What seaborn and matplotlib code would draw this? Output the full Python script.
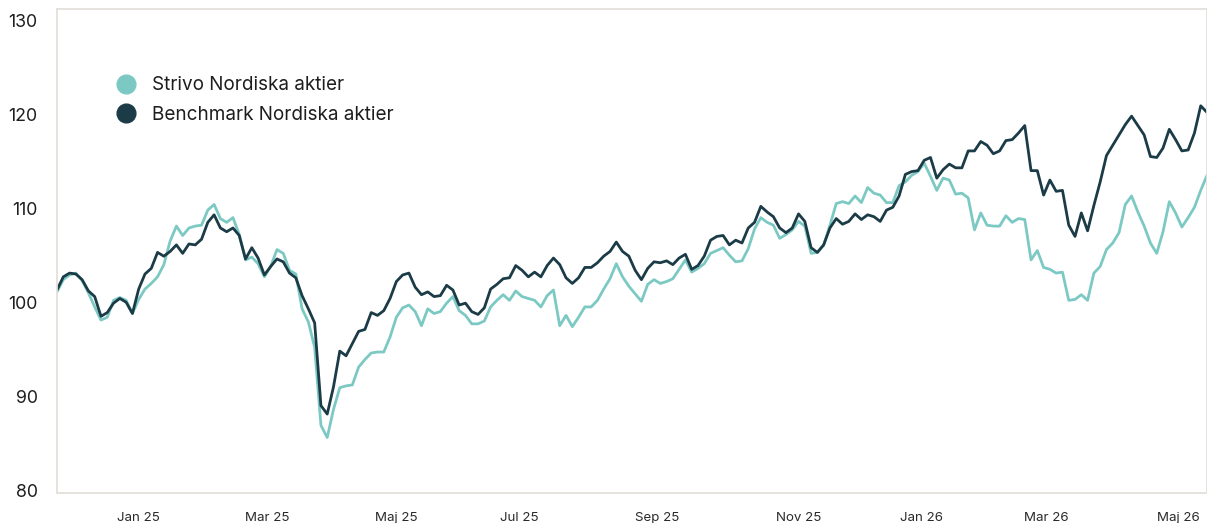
import matplotlib
matplotlib.use("Agg")
import matplotlib.pyplot as plt
from matplotlib.lines import Line2D
import numpy as np
import pandas as pd
import seaborn as sns

# ---- data -------------------------------------------------------------
start_date = "2024-11-20"
end_date = "2026-05-18"
market_holidays = [
    "2024-12-24", "2024-12-25", "2024-12-26", "2024-12-31",
    "2025-01-01", "2025-01-06", "2025-04-18", "2025-04-21",
    "2025-05-01", "2025-05-29", "2025-06-06", "2025-06-20",
    "2025-12-24", "2025-12-25", "2025-12-26", "2025-12-31",
    "2026-01-01", "2026-01-06", "2026-04-03", "2026-04-06",
    "2026-05-01", "2026-05-14",
]
sample_step = 2  # one observation every second trading day

strivo = [
    101.1, 102.4, 102.9, 103.1, 102.3, 101.0, 99.5, 98.1, 98.4, 100.2,
    100.5, 100.2, 98.8, 100.3, 101.4, 102.0, 102.7, 104.0, 106.5, 108.1,
    107.1, 107.9, 108.1, 108.2, 109.8, 110.4, 108.9, 108.5, 109.0, 107.2,
    104.5, 104.8, 104.1, 102.7, 103.8, 105.6, 105.2, 103.4, 103.0, 99.3,
    97.9, 95.2, 86.9, 85.6, 88.6, 90.9, 91.1, 91.2, 93.1, 93.9,
    94.6, 94.7, 94.7, 96.3, 98.4, 99.4, 99.7, 99.0, 97.5, 99.3,
    98.8, 99.0, 99.9, 100.6, 99.1, 98.6, 97.7, 97.7, 98.0, 99.5,
    100.2, 100.8, 100.2, 101.2, 100.6, 100.4, 100.2, 99.5, 100.7, 101.3,
    97.5, 98.6, 97.4, 98.4, 99.5, 99.5, 100.2, 101.4, 102.5, 104.1,
    102.7, 101.7, 100.9, 100.1, 101.9, 102.4, 102.0, 102.2, 102.5, 103.5,
    104.5, 103.2, 103.6, 104.1, 105.2, 105.5, 105.8, 105.0, 104.3, 104.4,
    105.7, 107.8, 109.0, 108.5, 108.2, 106.8, 107.2, 107.7, 108.6, 108.1,
    105.2, 105.3, 106.1, 108.2, 110.5, 110.7, 110.5, 111.3, 110.6, 112.2,
    111.6, 111.4, 110.6, 110.6, 112.4, 112.8, 113.5, 113.9, 114.8, 113.4,
    111.9, 113.2, 113.0, 111.5, 111.6, 111.1, 107.7, 109.5, 108.2, 108.1,
    108.1, 109.2, 108.5, 108.9, 108.8, 104.5, 105.5, 103.7, 103.5, 103.1,
    103.2, 100.2, 100.3, 100.8, 100.2, 103.1, 103.8, 105.6, 106.3, 107.4,
    110.4, 111.3, 109.6, 108.1, 106.3, 105.2, 107.5, 110.7, 109.5, 108.0,
    109.0, 110.1, 111.9, 113.5,
]

benchmark = [
    101.3, 102.7, 103.1, 103.0, 102.4, 101.2, 100.6, 98.5, 98.9, 99.9,
    100.4, 100.0, 98.8, 101.4, 103.0, 103.6, 105.3, 104.9, 105.4, 106.1,
    105.2, 106.2, 106.1, 106.7, 108.5, 109.3, 107.9, 107.5, 107.9, 107.1,
    104.6, 105.8, 104.7, 102.9, 103.8, 104.6, 104.3, 103.1, 102.6, 100.7,
    99.3, 97.8, 89.0, 88.1, 91.0, 94.8, 94.3, 95.6, 96.9, 97.1,
    98.9, 98.6, 99.1, 100.4, 102.2, 102.9, 103.1, 101.6, 100.8, 101.1,
    100.6, 100.7, 101.8, 101.3, 99.7, 99.9, 99.0, 98.7, 99.4, 101.4,
    101.9, 102.5, 102.6, 103.9, 103.4, 102.7, 103.2, 102.7, 103.9, 104.7,
    104.0, 102.6, 102.0, 102.6, 103.7, 103.7, 104.2, 104.9, 105.4, 106.4,
    105.4, 104.9, 103.4, 102.4, 103.6, 104.3, 104.2, 104.4, 104.0, 104.7,
    105.1, 103.5, 103.9, 104.9, 106.6, 107.0, 107.1, 106.1, 106.6, 106.3,
    107.9, 108.5, 110.2, 109.6, 109.1, 107.9, 107.4, 107.9, 109.4, 108.6,
    105.8, 105.3, 106.1, 107.9, 108.9, 108.3, 108.6, 109.4, 108.8, 109.3,
    109.1, 108.6, 109.8, 110.1, 111.3, 113.6, 113.9, 114.0, 115.1, 115.4,
    113.2, 114.1, 114.7, 114.3, 114.3, 116.1, 116.1, 117.1, 116.7, 115.8,
    116.1, 117.2, 117.3, 118.0, 118.8, 114.0, 114.0, 111.4, 113.0, 111.8,
    111.9, 108.2, 107.0, 109.5, 107.6, 110.3, 112.8, 115.6, 116.7, 117.8,
    118.9, 119.8, 118.8, 117.8, 115.5, 115.4, 116.4, 118.4, 117.3, 116.1,
    116.2, 118.0, 120.9, 120.2,
]

series_names = ["Strivo Nordiska aktier", "Benchmark Nordiska aktier"]
series_colors = ["#7cc9c4", "#1b3b47"]

tick_months = ["2025-01", "2025-03", "2025-05", "2025-07", "2025-09",
               "2025-11", "2026-01", "2026-03", "2026-05"]
tick_labels = ["Jan 25", "Mar 25", "Maj 25", "Jul 25", "Sep 25",
               "Nov 25", "Jan 26", "Mar 26", "Maj 26"]
y_ticks = [80, 90, 100, 110, 120, 130]

# ---- build trading-day axis ---------------------------------------------
trading_days = pd.bdate_range(start_date, end_date, freq="C",
                              holidays=market_holidays)
sample_dates = trading_days[::sample_step]
n = min(len(sample_dates), len(strivo), len(benchmark))
sample_dates = sample_dates[:n]
session = trading_days.get_indexer(sample_dates)

df = pd.concat([
    pd.DataFrame({"date": sample_dates, "session": session,
                  "value": strivo[:n], "series": series_names[0]}),
    pd.DataFrame({"date": sample_dates, "session": session,
                  "value": benchmark[:n], "series": series_names[1]}),
], ignore_index=True)

tick_pos = []
for m in tick_months:
    first = trading_days[trading_days.strftime("%Y-%m") == m][0]
    tick_pos.append(trading_days.get_loc(first))

# ---- plot -----------------------------------------------------------------
sns.set_theme(style="white")
plt.rcParams["font.family"] = ["Inter", "DejaVu Sans"]

fig = plt.figure(figsize=(12.07, 5.23), dpi=100)
ax = fig.add_axes([57 / 1207, 30 / 523, 1150 / 1207, 484 / 523])

sns.lineplot(data=df, x="session", y="value", hue="series",
             palette=dict(zip(series_names, series_colors)),
             hue_order=series_names, linewidth=2.0, legend=False, ax=ax,
             estimator=None)

ax.set_xlim(session[0], session[-1])
ax.set_ylim(79.7, 131.2)
ax.set_yticks(y_ticks)
ax.set_yticklabels([str(v) for v in y_ticks])
ax.set_xticks(tick_pos)
ax.set_xticklabels(tick_labels)
ax.set_xlabel("")
ax.set_ylabel("")

ax.tick_params(axis="y", length=0, pad=14, labelsize=12.8, labelcolor="#1e1e1e")
ax.tick_params(axis="x", length=0, pad=13.5, labelsize=9.6, labelcolor="#2a2a2a")
for sp in ax.spines.values():
    sp.set_color("#e4e0db")
    sp.set_linewidth(1.3)
    sp.set_visible(True)

handles = [Line2D([], [], marker="o", linestyle="none", markersize=13.5,
                  markerfacecolor=c, markeredgecolor=c) for c in series_colors]
ax.legend(handles, series_names, loc="upper left",
          bbox_to_anchor=(0.052, 0.861), frameon=False, fontsize=13.6,
          handlelength=1.0, handletextpad=0.85, labelspacing=0.62,
          borderpad=0, borderaxespad=0, labelcolor="#1e1e1e")

fig.savefig("out.png", dpi=100)
